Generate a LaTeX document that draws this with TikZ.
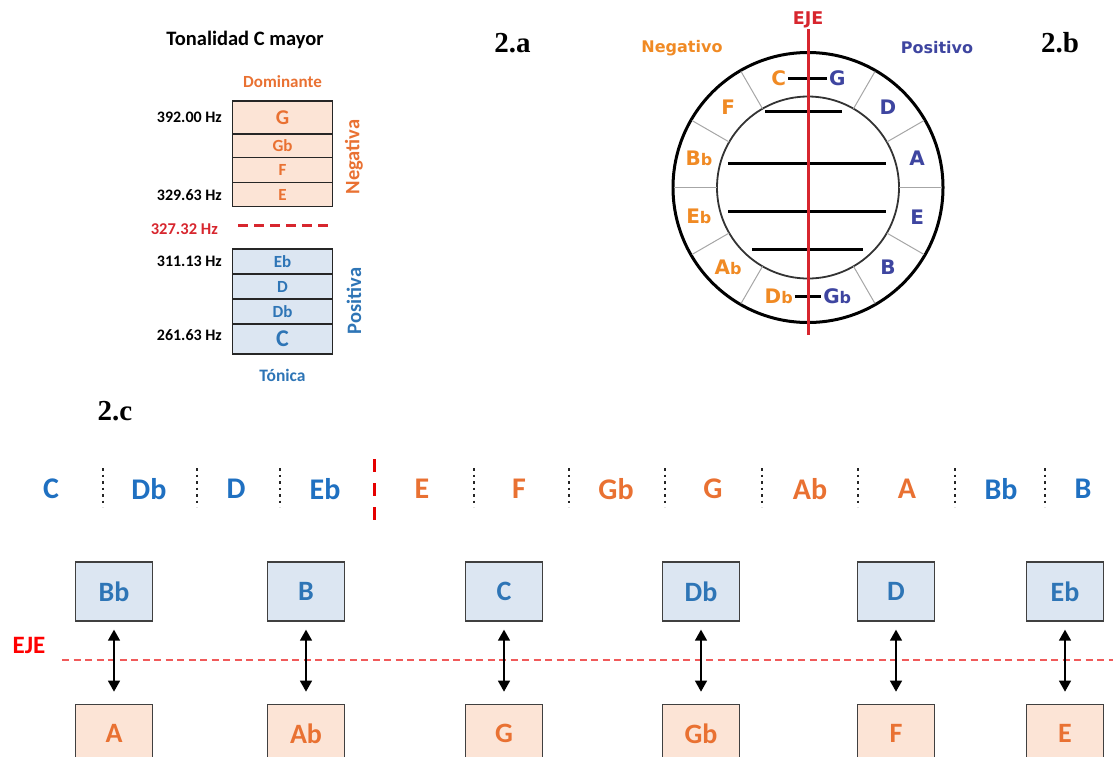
\documentclass[tikz,border=0pt]{standalone}
\usepackage{fontspec}
\setmainfont{Carlito}
\newfontfamily\circfont{DejaVu Sans}
\newfontfamily\timesfont{Liberation Serif}
\usetikzlibrary{positioning, arrows.meta}

\definecolor{negorange}{HTML}{E97132}
\definecolor{posblue}{HTML}{2E75B6}
\definecolor{rowblue}{HTML}{1F70C1}
\definecolor{boxorange}{HTML}{FCE4D6}
\definecolor{boxblue}{HTML}{DCE6F2}
\definecolor{circorange}{HTML}{F08A24}
\definecolor{circblue}{HTML}{3E45A0}
\definecolor{ejered}{HTML}{D7262E}
\definecolor{axisred}{HTML}{F05A5A}
\definecolor{boxline}{HTML}{404040}

\newcommand{\fsz}[1]{\fontsize{#1}{#1}\selectfont}
\newcommand{\smb}{{\fsz{16}b}}

\begin{document}
\begin{tikzpicture}[x=1pt,y=-1pt,
  keybox/.style={draw=black!85, line width=1.2pt, outer sep=0pt, minimum width=100pt, inner sep=0pt, font=\bfseries\fsz{17}},
  negkey/.style={keybox, fill=boxorange, text=negorange},
  poskey/.style={keybox, fill=boxblue, text=posblue},
  hzlab/.style={anchor=east, inner sep=0pt, font=\bfseries\fsz{16}},
  partlab/.style={anchor=base, font=\timesfont\bfseries\fsz{29}},
  circlab/.style={font=\circfont\bfseries\fsz{20}, inner sep=2pt},
  rowlab/.style={font=\bfseries\fsz{30}},
  pairbox/.style={draw=boxline, line width=1.3pt, minimum width=77pt, minimum height=59pt, font=\bfseries\fsz{28}},
  posbox/.style={pairbox, fill=boxblue, text=posblue},
  negbox/.style={pairbox, fill=boxorange, text=negorange},
  twoway/.style={{Triangle[length=11pt,width=12pt]}-{Triangle[length=11pt,width=12pt]}, line width=1.4pt, shorten <=8pt, shorten >=12pt},
  sep/.style={line width=2pt, dash pattern=on 2.5pt off 4pt, black!85}]
\useasboundingbox (0,0) rectangle (1113,756);
\clip (0,0) rectangle (1113,756);

% ---- 2.a : tonalidad ----
\node[font=\bfseries\fsz{20.5}] (title) at (245,40) {Tonalidad C mayor};
\node[text=negorange, font=\bfseries\fsz{17}] (dom) at (282.5,82) {Dominante};
\node[negkey, minimum height=33pt, font=\bfseries\fsz{21}] (kG) at (282.5,117.5) {G};
\node[negkey, minimum height=23.7pt, below=0pt of kG] (kGb) {Gb};
\node[negkey, minimum height=25pt, below=0pt of kGb] (kF) {F};
\node[negkey, minimum height=24pt, below=0pt of kF] (kE) {E};
\node[poskey, minimum height=25pt] (kEb) at (282.5,261.5) {Eb};
\node[poskey, minimum height=25pt, below=0pt of kEb] (kD) {D};
\node[poskey, minimum height=25pt, below=0pt of kD] (kDb) {Db};
\node[poskey, minimum height=30pt, below=0pt of kDb, font=\bfseries\fsz{24}] (kC) {C};
\node[text=posblue, font=\bfseries\fsz{17.5}] (ton) at (282.5,375) {Tónica};
\node[hzlab] (hzG) at (222,117) {392.00 Hz};
\node[hzlab] (hzE) at (222,195) {329.63 Hz};
\node[hzlab, text=ejered, font=\bfseries\fsz{16.5}] (hzEje) at (218,229) {327.32 Hz};
\node[hzlab] (hzEb) at (222,261) {311.13 Hz};
\node[hzlab] (hzC) at (222,335) {261.63 Hz};
\draw[ejered, line width=3pt, dash pattern=on 10pt off 6pt] (238,225) -- (328,225);
\node[rotate=90, text=negorange, font=\bfseries\fsz{20.5}] (neg) at (354,157) {Negativa};
\node[rotate=90, text=posblue, font=\bfseries\fsz{20.5}] (pos) at (354,301) {Positiva};
\node[partlab] (pa) at (512.5,52) {2.a};

% ---- 2.b : circulo ----
\node[partlab] (pb) at (1060,52) {2.b};
\node[text=circorange, font=\circfont\bfseries\fsz{16}] (negtxt) at (682,48) {Negativo};
\node[text=circblue, font=\circfont\bfseries\fsz{16}] (postxt) at (937,48) {Positivo};
\node[text=ejered, font=\circfont\bfseries\fsz{17.5}, inner sep=1pt] (ejeb) at (808,20) {EJE};
\begin{scope}[shift={(808,187.5)}, y=1pt]
  \draw[line width=3pt] (0,0) circle[radius=135];
  \draw[line width=1.8pt, black!80] (0,0) circle[radius=91];
  \foreach \a in {0,30,...,330}
    \draw[black!35, line width=1pt] (\a:91) -- (\a:134);
  \foreach \a/\nm/\txt/\col in {105/nC/C/circorange, 135/nF/F/circorange,
      165/nBb/B\smb/circorange, 195/nEb/E\smb/circorange, 225/nAb/A\smb/circorange,
      255/nDb/D\smb/circorange, 75/nG/G/circblue, 45/nD/D/circblue, 15/nA/A/circblue,
      -15/nE/E/circblue, -45/nB/B/circblue, -75/nGb/G\smb/circblue}
    \node[circlab, text=\col] (\nm) at (\a:113) {\txt};
\end{scope}
\coordinate (fdL) at (765,111);  \coordinate (fdR) at (842,111);
\coordinate (baL) at (728,163);  \coordinate (baR) at (886,163);
\coordinate (eeL) at (728,211);  \coordinate (eeR) at (886,211);
\coordinate (abL) at (752,249);  \coordinate (abR) at (863,249);
\draw[line width=3pt] (nC.east) -- (nG.west);
\draw[line width=3pt] (fdL) -- (fdR);
\draw[line width=3pt] (baL) -- (baR);
\draw[line width=3pt] (eeL) -- (eeR);
\draw[line width=3pt] (abL) -- (abR);
\draw[line width=3pt] (nDb.east) -- (nGb.west);
\coordinate (ejeend) at (808,335);
\draw[ejered, line width=3pt] (ejeb.south) -- (ejeend);

% ---- 2.c : espejo ----
\node[partlab] (pc) at (115,420) {2.c};
\foreach \x/\t/\c in {51/C/rowblue, 149/Db/rowblue, 236/D/rowblue, 325/Eb/rowblue,
    422/E/negorange, 519/F/negorange, 616/Gb/negorange, 713/G/negorange,
    810/Ab/negorange, 907/A/negorange, 1001/Bb/rowblue, 1083/B/rowblue}
  \node[rowlab, text=\c] (r\t) at (\x,489) {\t};
\foreach \x in {103,197,280,474,569,665,762,858,955,1045}
  \draw[sep] (\x,468) -- (\x,507);
\draw[red!90!black, line width=3pt, dash pattern=on 12.5pt off 11.5pt] (374,459) -- (374,520);

\node[text=red, font=\bfseries\fsz{25}] (eje) at (29,645) {EJE};
\coordinate (ejeR) at (1113,660);
\draw[axisred, line width=1.5pt, dash pattern=on 7pt off 4.5pt] (62,660) -- (ejeR);
\foreach \i/\x/\up/\dn in {1/114/Bb/A, 2/306/B/Ab, 3/504/C/G, 4/701/Db/Gb, 5/896/D/F, 6/1065/Eb/E} {
  \node[posbox] (t\i) at (\x,591.5) {\up};
  \node[negbox, below=82pt of t\i] (b\i) {\dn};
  \draw[twoway] (t\i) -- (b\i);
}
\end{tikzpicture}
\end{document}
